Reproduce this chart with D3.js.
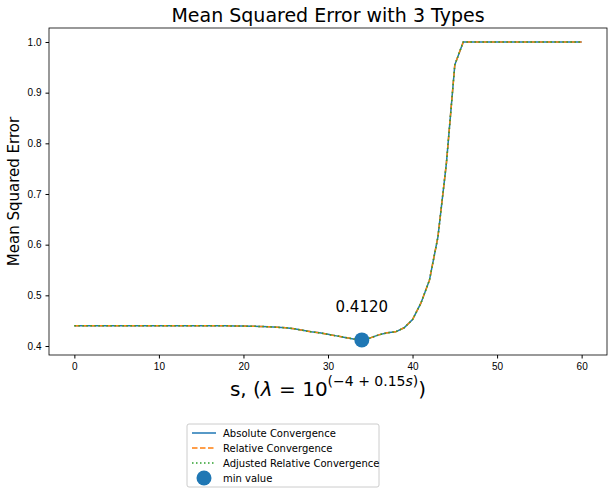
<!DOCTYPE html>
<html><head><meta charset="utf-8">
<script src="https://cdn.jsdelivr.net/npm/d3@7"></script>
<style>body{margin:0;background:#fff;font-family:"DejaVu Sans",sans-serif}</style>
</head><body>
<script>
const sValues = d3.range(0, 61);
const mse = [0.44,0.44,0.44,0.44,0.44,0.44,0.44,0.44,0.44,0.44,
  0.44,0.44,0.44,0.44,0.44,0.44,0.44,0.44,0.4398,0.4396,
  0.4393,0.439,0.4385,0.438,0.437,0.436,0.434,0.431,0.428,0.426,
  0.423,0.42,0.417,0.414,0.412,0.416,0.422,0.426,0.428,0.436,
  0.452,0.485,0.53,0.615,0.76,0.955,1,1,1,1,
  1,1,1,1,1,1,1,1,1,1,1];
const minIndex = 34;
const xTicks = [0,10,20,30,40,50,60];
const yTicks = [0.4,0.5,0.6,0.7,0.8,0.9,1.0];
const seriesNames = ["Absolute Convergence","Relative Convergence","Adjusted Relative Convergence"];
const colors = ["#1f77b4","#ff7f0e","#2ca02c"];
const dashes = [null,"5.5,2.5","1.5,2.5"];

const W = 614, H = 494;
const svg = d3.select("body").append("svg").attr("width", W).attr("height", H);
const L = 49, R = 607, T = 28, B = 355;
const x = d3.scaleLinear().domain([-3, 63]).range([L, R]);
const y = d3.scaleLinear().range([B, T]);
// calibrate y to reference: 1.0 at 42, 0.4 at 346
y.domain([0.4 - (B-346)/507, 1.0 + (42-T)/507]);

svg.append("g").attr("transform", `translate(0,${B})`)
  .call(d3.axisBottom(x).tickValues(xTicks).tickSize(3.5).tickPadding(4))
  .call(g => g.selectAll("text").attr("font-size", 10).attr("fill", "#000"));
svg.append("g").attr("transform", `translate(${L},0)`)
  .call(d3.axisLeft(y).tickValues(yTicks).tickFormat(d3.format(".1f")).tickSize(3.5).tickPadding(4))
  .call(g => g.selectAll("text").attr("font-size", 10).attr("fill", "#000"));
svg.selectAll(".domain").remove();
svg.append("rect").attr("x", L).attr("y", T).attr("width", R - L).attr("height", B - T)
  .attr("fill", "none").attr("stroke", "#000").attr("stroke-width", 0.8);

const line = d3.line().x((d, i) => x(sValues[i])).y(d => y(d));
seriesNames.forEach((n, k) => {
  svg.append("path").datum(mse).attr("d", line).attr("fill", "none")
    .attr("stroke", colors[k]).attr("stroke-width", 1.5)
    .attr("stroke-dasharray", dashes[k]);
});
svg.append("circle").attr("cx", x(sValues[minIndex])).attr("cy", y(mse[minIndex]))
  .attr("r", 7.5).attr("fill", "#1f77b4");
svg.append("text").attr("x", x(sValues[minIndex])).attr("y", y(mse[minIndex]) - 28)
  .attr("text-anchor", "middle").attr("font-size", 15).text(mse[minIndex].toFixed(4));

svg.append("text").attr("x", (L + R) / 2).attr("y", 22).attr("text-anchor", "middle")
  .attr("font-size", 19).text("Mean Squared Error with 3 Types");
svg.append("text").attr("transform", `translate(19,${(T + B) / 2}) rotate(-90)`)
  .attr("text-anchor", "middle").attr("font-size", 15).text("Mean Squared Error");

const xl = svg.append("text").attr("x", 328).attr("y", 396).attr("text-anchor", "middle").attr("font-size", 20);
xl.append("tspan").text("s, (");
xl.append("tspan").attr("font-style", "italic").text("λ");
xl.append("tspan").text(" = 10");
xl.append("tspan").attr("dy", -10).attr("font-size", 14).text("(−4 + 0.15");
xl.append("tspan").attr("font-size", 14).attr("font-style", "italic").text("s");
xl.append("tspan").attr("font-size", 14).text(")");
xl.append("tspan").attr("dy", 10).text(")");

const lg = svg.append("g").attr("transform", "translate(187,424)");
lg.append("rect").attr("width", 192).attr("height", 63).attr("rx", 2)
  .attr("fill", "#fff").attr("stroke", "#ccc");
seriesNames.forEach((n, k) => {
  const yy = 9 + k * 15;
  lg.append("line").attr("x1", 5).attr("x2", 29).attr("y1", yy).attr("y2", yy)
    .attr("stroke", colors[k]).attr("stroke-width", 1.5).attr("stroke-dasharray", dashes[k]);
  lg.append("text").attr("x", 36).attr("y", yy + 4).attr("font-size", 10).text(n);
});
lg.append("circle").attr("cx", 17).attr("cy", 54).attr("r", 7.5).attr("fill", "#1f77b4");
lg.append("text").attr("x", 36).attr("y", 58).attr("font-size", 10).text("min value");
</script>
</body></html>
